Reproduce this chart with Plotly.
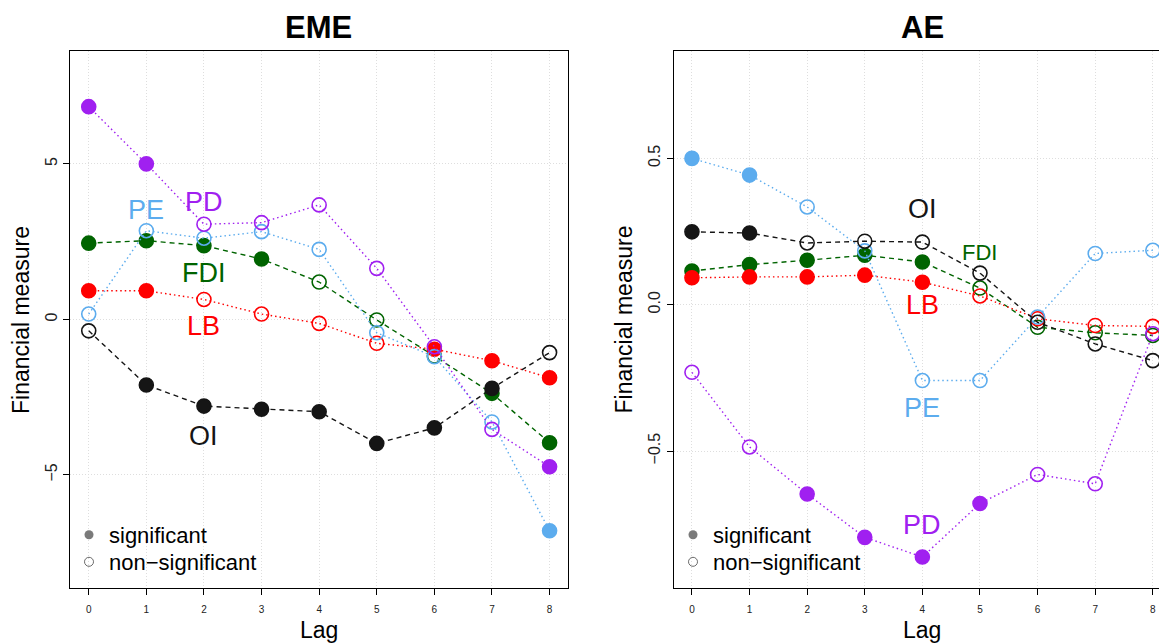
import plotly.graph_objects as go

# page is rendered with an 8px body margin; figure sized to fill the rest of the window
OFF = 8
W, H = 1167 - OFF, 644 - OFF

lags = [0, 1, 2, 3, 4, 5, 6, 7, 8]
series = ["FDI", "LB", "PE", "PD", "OI"]
colors = {"PD": "#A020F0", "PE": "#5CACEE", "FDI": "#006400", "LB": "#FF0000", "OI": "#151515"}
dashes = {"PD": "1.5px,3px", "PE": "1.5px,3px", "LB": "1.5px,3px", "FDI": "5px,4px", "OI": "5px,4px"}

# ---- EME panel values ----
eme_PD = [6.84, 5.00, 3.06, 3.11, 3.68, 1.64, -0.88, -3.54, -4.74]
eme_PE = [0.17, 2.85, 2.61, 2.82, 2.25, -0.43, -1.20, -3.30, -6.80]
eme_FDI = [2.45, 2.53, 2.37, 1.94, 1.20, -0.02, -1.18, -2.38, -3.97]
eme_LB = [0.92, 0.92, 0.64, 0.17, -0.13, -0.77, -0.96, -1.33, -1.88]
eme_OI = [-0.37, -2.11, -2.79, -2.89, -2.97, -3.99, -3.49, -2.22, -1.07]

eme_sig_PD = [1, 1, 0, 0, 0, 0, 0, 0, 1]
eme_sig_PE = [0, 0, 0, 0, 0, 0, 0, 0, 1]
eme_sig_FDI = [1, 1, 1, 1, 0, 0, 0, 1, 1]
eme_sig_LB = [1, 1, 0, 0, 0, 0, 1, 1, 1]
eme_sig_OI = [0, 1, 1, 1, 1, 1, 1, 1, 0]

# ---- AE panel values ----
ae_PD = [-0.231, -0.486, -0.647, -0.795, -0.862, -0.679, -0.580, -0.612, -0.099]
ae_PE = [0.500, 0.443, 0.334, 0.184, -0.259, -0.259, -0.042, 0.175, 0.186]
ae_FDI = [0.115, 0.137, 0.152, 0.169, 0.146, 0.057, -0.077, -0.096, -0.105]
ae_LB = [0.092, 0.095, 0.095, 0.101, 0.077, 0.030, -0.048, -0.071, -0.074]
ae_OI = [0.249, 0.245, 0.211, 0.217, 0.214, 0.108, -0.060, -0.134, -0.191]

ae_sig_PD = [0, 0, 1, 1, 1, 1, 0, 0, 0]
ae_sig_PE = [1, 1, 0, 0, 0, 0, 0, 0, 0]
ae_sig_FDI = [1, 1, 1, 1, 1, 0, 0, 0, 0]
ae_sig_LB = [1, 1, 1, 1, 1, 0, 0, 0, 0]
ae_sig_OI = [1, 1, 0, 0, 0, 0, 0, 0, 0]

# series label positions (lag, value)
eme_label_pos = {"PE": (1, 3.52), "PD": (2, 3.79), "FDI": (2, 1.49), "LB": (2, -0.21), "OI": (2, -3.75)}
ae_label_pos = {"OI": (4, 0.327), "FDI": (5, 0.178), "LB": (4, 0.0), "PE": (4, -0.353), "PD": (4, -0.752)}
ae_label_size = {"OI": 27, "FDI": 22, "LB": 27, "PE": 27, "PD": 27}

legend_labels = ["significant", "non\u2212significant"]

eme_vals = {"PD": eme_PD, "PE": eme_PE, "FDI": eme_FDI, "LB": eme_LB, "OI": eme_OI}
eme_sig = {"PD": eme_sig_PD, "PE": eme_sig_PE, "FDI": eme_sig_FDI, "LB": eme_sig_LB, "OI": eme_sig_OI}
ae_vals = {"PD": ae_PD, "PE": ae_PE, "FDI": ae_FDI, "LB": ae_LB, "OI": ae_OI}
ae_sig = {"PD": ae_sig_PD, "PE": ae_sig_PE, "FDI": ae_sig_FDI, "LB": ae_sig_LB, "OI": ae_sig_OI}

FONT = "Liberation Sans, Arial, Helvetica, sans-serif"


def fx(p):
    return (p - OFF) / W


def fy(p):
    return 1 - (p - OFF) / H


fig = go.Figure()


def add_panel(vals, sig, xa, ya):
    for s in series:
        fig.add_trace(go.Scatter(
            x=lags, y=vals[s], mode="lines+markers", xaxis=xa, yaxis=ya,
            showlegend=False, hoverinfo="skip",
            line=dict(color=colors[s], width=1.4, dash=dashes[s]),
            marker=dict(size=14, color=colors[s],
                        symbol=["circle" if v else "circle-open" for v in sig[s]],
                        line=dict(color=colors[s], width=1.6)),
        ))


add_panel(eme_vals, eme_sig, "x", "y")
add_panel(ae_vals, ae_sig, "x2", "y2")

# legend entries: one legend per entry so spacing can match
for lg_sig, lg_non in [("legend", "legend2"), ("legend3", "legend4")]:
    fig.add_trace(go.Scatter(x=[None], y=[None], mode="markers", name=legend_labels[0], legend=lg_sig,
                             marker=dict(size=9, color="#7a7a7a", symbol="circle", line=dict(width=0))))
    fig.add_trace(go.Scatter(x=[None], y=[None], mode="markers", name=legend_labels[1], legend=lg_non,
                             marker=dict(size=9, color="#6a6a6a", symbol="circle-open",
                                         line=dict(width=1, color="#6a6a6a"))))

annotations = []
for s, (lx, ly) in eme_label_pos.items():
    annotations.append(dict(x=lx, y=ly, xref="x", yref="y", text=s, showarrow=False,
                            font=dict(family=FONT, size=27, color=colors[s]), xanchor="center", yanchor="middle"))
for s, (lx, ly) in ae_label_pos.items():
    annotations.append(dict(x=lx, y=ly, xref="x2", yref="y2", text=s, showarrow=False,
                            font=dict(family=FONT, size=ae_label_size[s], color=colors[s]),
                            xanchor="center", yanchor="middle"))

for txt, cx in [("EME", 318.0), ("AE", 922.0)]:
    annotations.append(dict(x=fx(cx), y=fy(9), xref="paper", yref="paper", text="<b>%s</b>" % txt,
                            showarrow=False, font=dict(family=FONT, size=31, color="black"),
                            xanchor="center", yanchor="top", borderpad=0))
for cx in [319.3, 922.0]:
    annotations.append(dict(x=fx(cx), y=fy(630), xref="paper", yref="paper", text="Lag", showarrow=False,
                            font=dict(family=FONT, size=23, color="black"), xanchor="center", yanchor="middle"))
for cx in [21.0, 623.5]:
    annotations.append(dict(x=fx(cx), y=fy(320), xref="paper", yref="paper", text="Financial measure",
                            showarrow=False, textangle=-90, font=dict(family=FONT, size=23, color="black"),
                            xanchor="center", yanchor="middle"))

y_dom = [fy(588.0), fy(50.7)]

GRID = "#dedede"
common_x = dict(showline=True, linecolor="black", linewidth=1, ticks="outside", ticklen=6,
                tickcolor="black", tickwidth=1, tickvals=lags, showgrid=True, gridcolor=GRID,
                griddash="1px,2px", gridwidth=1, zeroline=False,
                tickfont=dict(family=FONT, size=10, color="#222"), ticklabelstandoff=6)
common_y = dict(showline=True, linecolor="black", linewidth=1, ticks="outside", ticklen=6,
                tickcolor="black", tickwidth=1, showgrid=True, gridcolor=GRID, griddash="1px,2px",
                gridwidth=1, zeroline=False, tickangle=-90, tickfont=dict(family=FONT, size=16, color="#222"))


def leg(xp, yp):
    return dict(x=fx(xp), y=fy(yp), xanchor="left", yanchor="middle", bgcolor="rgba(0,0,0,0)",
                font=dict(family=FONT, size=22, color="black"), itemsizing="trace")


fig.update_layout(
    width=W, height=H, margin=dict(l=0, r=0, t=0, b=0),
    paper_bgcolor="white", plot_bgcolor="white",
    font=dict(family=FONT),
    xaxis=dict(domain=[fx(70.3), fx(568.3)], range=[-0.32, 8.325], anchor="y", mirror=True, **common_x),
    yaxis=dict(domain=y_dom, range=[-8.64, 8.64], anchor="x", mirror=True,
               tickvals=[-5, 0, 5], ticktext=["\u22125", "0", "5"], **common_y),
    xaxis2=dict(domain=[fx(673.5), 1.0], range=[-0.32, 8.246], anchor="y2", mirror=True, **common_x),
    yaxis2=dict(domain=y_dom, range=[-0.968, 0.868], anchor="x2", mirror=False,
                tickvals=[-0.5, 0, 0.5], ticktext=["\u22120.5", "0.0", "0.5"], **common_y),
    legend=leg(69, 535),
    legend2=leg(69, 562),
    legend3=leg(673, 535),
    legend4=leg(673, 562),
    annotations=annotations,
)

fig.write_html("out.html")
